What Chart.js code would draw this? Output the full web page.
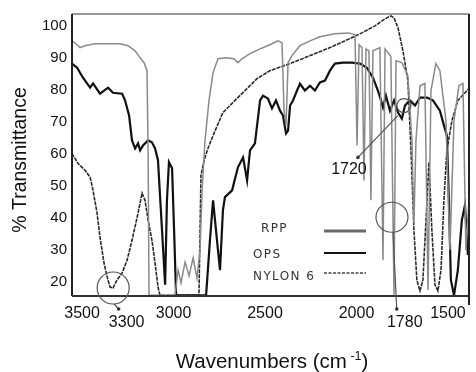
<!DOCTYPE html>
<html>
<head>
<meta charset="utf-8">
<script src="https://cdn.jsdelivr.net/npm/chart.js@4/dist/chart.umd.min.js"></script>
<style>
  html, body { margin: 0; padding: 0; background: #fff; }
  #wrap { width: 476px; height: 372px; }
</style>
</head>
<body>
<div id="wrap"><canvas id="irChart" width="476" height="372"></canvas></div>
<script>
// Tick labels
const xTicks = [3500, 3000, 2500, 2000, 1500];
const yTicks = [20, 30, 40, 50, 60, 70, 80, 90, 100];

// RPP spectrum (wavenumber, % transmittance)
const rppWn = [3555, 3527, 3511, 3484, 3429, 3347, 3292, 3249, 3210, 3183, 3161, 3145, 3139, 3134,
  2992, 2975, 2959, 2937, 2915, 2893, 2872, 2855, 2844, 2828, 2806, 2784, 2757, 2713, 2670, 2648,
  2626, 2582, 2527, 2473, 2429, 2407, 2396, 2385, 2374, 2353, 2309, 2254, 2200, 2118, 2041, 2008,
  1997, 1986, 1970, 1959, 1948, 1932, 1921, 1910, 1872, 1855, 1844, 1812, 1795, 1784, 1752, 1719,
  1697, 1686, 1675, 1653, 1626, 1609, 1593, 1566, 1544, 1511, 1489, 1467, 1440, 1418, 1402, 1385];
const rppT = [95.3, 94.1, 93.2, 93.8, 94.4, 94.4, 94.4, 93.8, 92.2, 90, 88.5, 86, 61.1, 15.8,
  15.8, 23.7, 19.7, 26.2, 21.9, 27.5, 21.2, 30, 48.6, 64.2, 76.7, 85.4, 89.7, 90, 89.7, 88.5,
  89.7, 91.3, 92.8, 94.1, 95.3, 94.7, 73.5, 68.9, 88.5, 90.7, 93.8, 95.3, 96.6, 97.5, 97.8, 97.2,
  62.6, 94.1, 93.2, 51.7, 92.8, 92.2, 45.5, 92.2, 93.2, 26.8, 92.8, 90.4, 16, 89.1, 88.5, 84.4,
  64.2, 38.3, 64.2, 81.3, 82, 17.5, 79.8, 88.2, 86, 70.4, 30, 70.4, 81.3, 82, 30, 45.5];

// OPS spectrum
const opsWn = [3555, 3527, 3495, 3456, 3440, 3402, 3358, 3331, 3281, 3265, 3243, 3227, 3210, 3194,
  3183, 3167, 3139, 3118, 3101, 3085, 3063, 3046, 3036, 3025, 3008, 2997, 2986, 2822, 2801, 2784,
  2768, 2746, 2730, 2719, 2680, 2648, 2620, 2598, 2582, 2555, 2527, 2511, 2484, 2462, 2440, 2418,
  2402, 2385, 2374, 2363, 2347, 2325, 2309, 2282, 2254, 2227, 2200, 2172, 2145, 2118, 2074, 2025,
  1981, 1943, 1910, 1883, 1866, 1855, 1839, 1817, 1795, 1773, 1752, 1735, 1708, 1680, 1653, 1615,
  1582, 1544, 1522, 1506, 1495, 1484, 1467, 1446, 1424, 1407, 1391, 1385];
const opsT = [88.2, 86.9, 83.8, 80.7, 82, 78.8, 80.7, 79.1, 78.8, 76.7, 72, 64.2, 61.7, 63.3,
  61.1, 62.6, 64.2, 63.6, 61.7, 58, 36.2, 19.1, 45.5, 57.4, 55.5, 36.2, 15.8, 15.8, 33, 45.5,
  36.2, 23.7, 42.4, 46.5, 48.6, 55.8, 58.9, 51.7, 61.1, 63.3, 76.7, 78.2, 77.3, 74.2, 76.7, 73.5,
  72, 66.4, 67.3, 75.1, 76.7, 79.8, 81.9, 79.8, 81.3, 79.8, 82.3, 82.9, 86, 88.2, 88.5, 88.5,
  88.2, 86.9, 83.8, 79.8, 76.7, 74.5, 78.2, 73.5, 76.7, 72.9, 71, 75.1, 76.7, 75.1, 77.6, 77.6,
  76.7, 73.5, 68.9, 65.8, 45.5, 20.6, 15.8, 23.7, 39.3, 44, 28.4, 33];

// NYLON 6 spectrum
const nylonWn = [3555, 3549, 3522, 3484, 3456, 3440, 3418, 3402, 3391, 3380, 3363, 3347, 3331, 3309,
  3281, 3254, 3227, 3199, 3172, 3156, 3139, 3118, 3101, 3085, 3074, 2861, 2855, 2850, 2833, 2812,
  2779, 2730, 2664, 2609, 2544, 2473, 2363, 2254, 2145, 2063, 1981, 1899, 1844, 1812, 1795, 1773,
  1746, 1719, 1702, 1686, 1670, 1653, 1637, 1620, 1604, 1588, 1571, 1555, 1538, 1522, 1506, 1478,
  1446, 1407, 1385];
const nylonT = [60.2, 59.5, 57, 54.9, 52.7, 48.6, 41.5, 34, 30, 25.9, 21.6, 18.4, 18.1, 20.6,
  22.8, 26.8, 33, 40.2, 47.7, 45.5, 39.3, 33, 25.9, 18.4, 15.8, 15.8, 36.2, 53.3, 58, 61.7,
  66.4, 72.9, 76.7, 79.8, 83.5, 86, 88.2, 90.7, 93.2, 95.3, 97.5, 100, 102.2, 103.1, 102.5, 99.4,
  92.2, 82.9, 61.1, 36.2, 20.6, 17.2, 20.6, 39.3, 57.4, 36.2, 19.1, 17.2, 23.7, 45.5, 61.1, 70.4,
  76.7, 79.1, 80.4];

// Marked bands (data units)
const marks = [
  { label: '3300', wn: 3300, circleWn: 3330, circleT: 18.1, rx: 16, ry: 16 },
  { label: '1780', wn: 1780, circleWn: 1806, circleT: 40.2, rx: 16, ry: 15 }
];
const mark1720 = { label: '1720', wn: 1741, t: 75.1, dotWn: 1992, dotT: 58.9 };

function toPoints(wn, t) {
  return wn.map((w, i) => ({ x: w, y: t[i] }));
}

const font = '"Liberation Sans", Arial, sans-serif';

// Frame, titles, legend and annotations
const decorPlugin = {
  id: 'decor',
  afterDatasetsDraw(chart) {
    const ctx = chart.ctx;
    const a = chart.chartArea;
    const xs = chart.scales.x, ys = chart.scales.y;
    ctx.save();

    // frame
    ctx.lineWidth = 2;
    ctx.strokeStyle = '#999';
    ctx.beginPath(); ctx.moveTo(a.left, a.top); ctx.lineTo(a.right, a.top); ctx.stroke();
    ctx.strokeStyle = '#222';
    ctx.beginPath(); ctx.moveTo(a.left, a.top); ctx.lineTo(a.left, a.bottom); ctx.stroke();
    ctx.strokeStyle = '#333';
    ctx.beginPath(); ctx.moveTo(a.left, a.bottom); ctx.lineTo(a.right, a.bottom); ctx.stroke();
    ctx.strokeStyle = '#222';
    ctx.beginPath(); ctx.moveTo(a.right, a.top); ctx.lineTo(a.right, a.bottom + 9); ctx.stroke();

    // circled bands with labels under the axis
    ctx.strokeStyle = '#555';
    ctx.fillStyle = '#333';
    ctx.lineWidth = 1.2;
    marks.forEach(m => {
      const cx = xs.getPixelForValue(m.circleWn);
      const cy = ys.getPixelForValue(m.circleT);
      const mx = xs.getPixelForValue(m.wn);
      ctx.beginPath(); ctx.ellipse(cx, cy, m.rx, m.ry, 0, 0, Math.PI * 2); ctx.stroke();
      ctx.beginPath(); ctx.moveTo(cx + 1, cy + m.ry); ctx.lineTo(mx, a.bottom + 13); ctx.stroke();
      ctx.beginPath(); ctx.arc(mx, a.bottom + 13, 1.8, 0, Math.PI * 2); ctx.fill();
      ctx.fillStyle = '#111';
      ctx.font = '16px ' + font;
      ctx.textAlign = 'center';
      ctx.textBaseline = 'alphabetic';
      ctx.fillText(m.label, mx + 8, a.bottom + 31);
      ctx.fillStyle = '#333';
    });

    // 1720 small circle with leader
    const sx = xs.getPixelForValue(mark1720.wn), sy = ys.getPixelForValue(mark1720.t);
    const dx = xs.getPixelForValue(mark1720.dotWn), dy = ys.getPixelForValue(mark1720.dotT);
    ctx.beginPath(); ctx.arc(sx, sy, 7, 0, Math.PI * 2); ctx.stroke();
    ctx.beginPath(); ctx.moveTo(dx, dy); ctx.lineTo(sx - 6, sy + 10); ctx.stroke();
    ctx.beginPath(); ctx.arc(dx, dy, 1.8, 0, Math.PI * 2); ctx.fill();
    ctx.fillStyle = '#111';
    ctx.font = '16px ' + font;
    ctx.textAlign = 'center';
    ctx.fillText(mark1720.label, dx - 9, dy + 17);

    // legend
    const legend = [
      { text: 'RPP', tx: 261, ty: 232, ly: 231, color: '#6a6a6a', width: 3, dash: [] },
      { text: 'OPS', tx: 253, ty: 258, ly: 253, color: '#111', width: 2, dash: [] },
      { text: 'NYLON 6', tx: 253, ty: 280, ly: 273, color: '#444', width: 1.6, dash: [3, 1.5] }
    ];
    ctx.font = '12px "DejaVu Sans", sans-serif';
    ctx.letterSpacing = '1.4px';
    ctx.textAlign = 'left';
    legend.forEach(l => {
      ctx.fillStyle = '#333';
      ctx.fillText(l.text, l.tx, l.ty);
      ctx.strokeStyle = l.color;
      ctx.lineWidth = l.width;
      ctx.setLineDash(l.dash);
      ctx.beginPath(); ctx.moveTo(324, l.ly); ctx.lineTo(366, l.ly); ctx.stroke();
    });
    ctx.setLineDash([]);
    ctx.letterSpacing = '0px';

    // axis titles
    ctx.fillStyle = '#111';
    ctx.font = '19.5px ' + font;
    ctx.save();
    ctx.translate(26, 160);
    ctx.rotate(-Math.PI / 2);
    ctx.textAlign = 'center';
    ctx.fillText('% Transmittance', 0, 0);
    ctx.restore();

    const main = 'Wavenumbers (cm';
    ctx.font = '20.5px ' + font;
    const w1 = ctx.measureText(main).width;
    ctx.font = '12.5px ' + font;
    const w2 = ctx.measureText(' -1').width;
    ctx.font = '20.5px ' + font;
    const w3 = ctx.measureText(')').width;
    let x0 = 272 - (w1 + w2 + w3) / 2;
    ctx.textAlign = 'left';
    ctx.fillText(main, x0, 368);
    ctx.font = '12.5px ' + font;
    ctx.fillText(' -1', x0 + w1, 360);
    ctx.font = '20.5px ' + font;
    ctx.fillText(')', x0 + w1 + w2, 368);

    ctx.restore();
  }
};

const ctx = document.getElementById('irChart').getContext('2d');
new Chart(ctx, {
  type: 'line',
  data: {
    datasets: [
      {
        label: 'RPP',
        data: toPoints(rppWn, rppT),
        borderColor: '#8a8a8a',
        borderWidth: 1.5,
        pointRadius: 0,
        tension: 0
      },
      {
        label: 'OPS',
        data: toPoints(opsWn, opsT),
        borderColor: '#111',
        borderWidth: 2.2,
        pointRadius: 0,
        tension: 0
      },
      {
        label: 'NYLON 6',
        data: toPoints(nylonWn, nylonT),
        borderColor: '#2a2a2a',
        borderWidth: 1.6,
        borderDash: [4, 1],
        pointRadius: 0,
        tension: 0
      }
    ]
  },
  options: {
    responsive: false,
    animation: false,
    devicePixelRatio: 1,
    layout: { padding: { top: 13, right: 7, left: 0, bottom: 0 } },
    plugins: {
      legend: { display: false },
      tooltip: { enabled: false }
    },
    scales: {
      x: {
        type: 'linear',
        reverse: true,
        min: 1385,
        max: 3555,
        afterBuildTicks: s => { s.ticks = xTicks.map(v => ({ value: v })); },
        afterFit: s => { s.height = 76; },
        grid: { display: false, drawTicks: false },
        border: { display: false },
        ticks: {
          font: { family: font, size: 16 },
          color: '#111',
          padding: 8,
          maxRotation: 0,
          autoSkip: false,
          callback: v => String(v)
        }
      },
      y: {
        min: 15.6,
        max: 103.7,
        afterBuildTicks: s => { s.ticks = yTicks.map(v => ({ value: v })); },
        afterFit: s => { s.width = 72; },
        grid: { display: false, drawTicks: false },
        border: { display: false },
        ticks: {
          font: { family: font, size: 15 },
          color: '#111',
          padding: 5,
          callback: v => String(v)
        }
      }
    }
  },
  plugins: [decorPlugin]
});
</script>
</body>
</html>
